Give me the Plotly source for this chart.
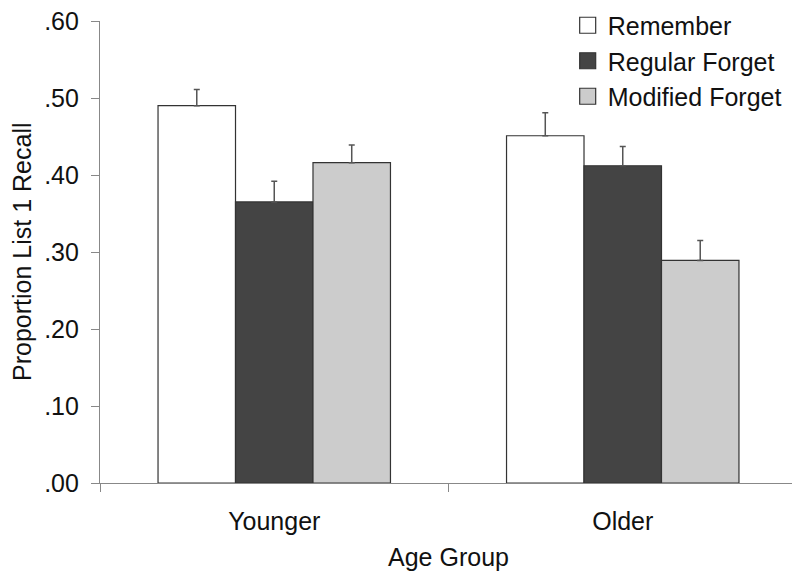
import plotly.graph_objects as go

groups = ["Younger", "Older"]
series = ["Remember", "Regular Forget", "Modified Forget"]
remember = [0.490, 0.451]
regular_forget = [0.365, 0.412]
modified_forget = [0.416, 0.289]
remember_err = [0.021, 0.030]
regular_err = [0.027, 0.025]
modified_err = [0.023, 0.026]
ytick_vals = [0.0, 0.1, 0.2, 0.3, 0.4, 0.5, 0.6]
ytick_text = [".00", ".10", ".20", ".30", ".40", ".50", ".60"]
y_title = "Proportion List 1 Recall"
x_title = "Age Group"

colors = ["#ffffff", "#444444", "#cccccc"]
values = [remember, regular_forget, modified_forget]
errors = [remember_err, regular_err, modified_err]

FONT = "Liberation Sans, Arial, sans-serif"
FS = 25

fig = go.Figure()
for name, vals, errs, col in zip(series, values, errors, colors):
    fig.add_trace(go.Bar(
        x=groups, y=vals, name=name, showlegend=False,
        marker=dict(color=col, line=dict(color="#333333", width=1.2)),
        error_y=dict(type="data", array=errs, arrayminus=[0, 0], symmetric=False,
                     color="#555555", thickness=1.5, width=3),
    ))
# legend entries with larger square swatches
for name, col in zip(series, colors):
    fig.add_trace(go.Scatter(
        x=[None], y=[None], mode="markers", name=name,
        marker=dict(symbol="square", size=16, color=col,
                    line=dict(color="#333333", width=1.2)),
    ))

# page body has an 8px margin, so the figure is sized to fit the 800x583 window
fig.update_layout(
    width=792, height=575,
    margin=dict(l=92, r=3, t=13, b=100, autoexpand=False),
    paper_bgcolor="white", plot_bgcolor="white",
    barmode="group", bargap=0.333, bargroupgap=0,
    font=dict(family=FONT, size=FS, color="#111111"),
    legend=dict(x=0.671, y=1.04, xanchor="left", yanchor="top",
                bgcolor="rgba(0,0,0,0)", font=dict(size=FS),
                itemsizing="trace", tracegroupgap=0),
    xaxis=dict(
        showline=True, linecolor="#888888", linewidth=1.2,
        ticks="outside", tickson="boundaries", ticklen=8, tickcolor="#888888",
        tickwidth=1.2, showgrid=False, zeroline=False, automargin=False,
        ticklabelstandoff=16,
        title=dict(text=x_title, standoff=14, font=dict(size=FS)),
    ),
    yaxis=dict(
        range=[0, 0.6], showline=True, linecolor="#888888", linewidth=1.2,
        ticks="outside", ticklen=8, tickcolor="#888888", tickwidth=1.2,
        tickvals=ytick_vals, ticktext=ytick_text, showgrid=False, zeroline=False,
        automargin=False, ticklabelstandoff=7, ticklabeloverflow="allow",
    ),
    annotations=[dict(
        text=y_title, textangle=-90, xref="paper", yref="paper",
        x=-0.112, y=0.5, xanchor="center", yanchor="middle",
        showarrow=False, font=dict(size=FS, family=FONT, color="#111111"),
    )],
)

fig.write_html("out.html")
